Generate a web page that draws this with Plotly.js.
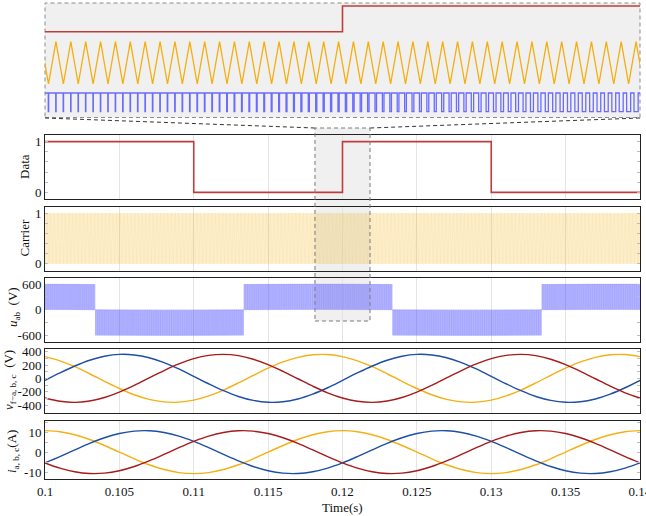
<!DOCTYPE html>
<html>
<head>
<meta charset="utf-8">
<script src="https://cdn.plot.ly/plotly-3.0.1.min.js"></script>
<style>
  html, body { margin: 0; padding: 0; background: #fff; }
  #chart { width: 646px; height: 516px; }
</style>
</head>
<body>
<div id="chart"></div>
<script>
// ---- Time axis ----
const timeRange = [0.1, 0.140001];
const zoomWindow = [0.11815, 0.12185];
const timeTicks = [0.1, 0.105, 0.11, 0.115, 0.12, 0.125, 0.13, 0.135, 0.14];

// ---- Data bit stream (level held from each edge to the next) ----
const dataEdges = [0.1, 0.11, 0.12, 0.13, 0.14];
const dataBits  = [1, 0, 1, 0, 0];

// ---- Carrier and modulation parameters ----
const carrierPeriod = 9.25e-5;     // s
const carrierPeakAt = 0.118218;    // time of one carrier peak (s)
const dcLink = 600;                // V, pulse height of u_ab
const refPeriod = 0.02;            // s
const refZeroCrossings = [0.10337, 0.11337, 0.12337, 0.13337]; // u_ab polarity changes
const modIndex = 0.95;

// ---- Three-phase samples, every 1 ms from 0.100 s to 0.140 s ----
const tSample = Array.from({length: 41}, (_, k) => +(0.1 + k * 0.001).toFixed(3));

const vA = [-31, 81, 185, 272, 331, 359, 351, 309, 236, 141, 31, -81, -185, -272, -331, -359, -351, -309, -236, -141,
            -31, 81, 185, 272, 331, 359, 351, 309, 236, 141, 31, -81, -185, -272, -331, -359, -351, -309, -236, -141, -31];
const vB = [-295, -344, -360, -340, -287, -206, -105, 6, 117, 217, 295, 344, 360, 340, 287, 206, 105, -6, -117, -217,
            -295, -344, -360, -340, -287, -206, -105, 6, 117, 217, 295, 344, 360, 340, 287, 206, 105, -6, -117, -217, -295];
const vC = [326, 263, 175, 69, -44, -152, -246, -315, -353, -357, -326, -263, -175, -69, 44, 152, 246, 315, 353, 357,
            326, 263, 175, 69, -44, -152, -246, -315, -353, -357, -326, -263, -175, -69, 44, 152, 246, 315, 353, 357, 326];

const iA = [-5.4, -2.25, 1.13, 4.39, 7.23, 9.35, 10.56, 10.74, 9.87, 8.03, 5.4, 2.25, -1.13, -4.39, -7.23, -9.35, -10.56, -10.74, -9.87, -8.03,
            -5.4, -2.25, 1.13, 4.39, 7.23, 9.35, 10.56, 10.74, 9.87, 8.03, 5.4, 2.25, -1.13, -4.39, -7.23, -9.35, -10.56, -10.74, -9.87, -8.03, -5.4];
const iB = [-5.4, -8.03, -9.87, -10.74, -10.56, -9.35, -7.23, -4.39, -1.13, 2.25, 5.4, 8.03, 9.87, 10.74, 10.56, 9.35, 7.23, 4.39, 1.13, -2.25,
            -5.4, -8.03, -9.87, -10.74, -10.56, -9.35, -7.23, -4.39, -1.13, 2.25, 5.4, 8.03, 9.87, 10.74, 10.56, 9.35, 7.23, 4.39, 1.13, -2.25, -5.4];
const iC = [10.8, 10.27, 8.74, 6.35, 3.34, 0, -3.34, -6.35, -8.74, -10.27, -10.8, -10.27, -8.74, -6.35, -3.34, 0, 3.34, 6.35, 8.74, 10.27,
            10.8, 10.27, 8.74, 6.35, 3.34, 0, -3.34, -6.35, -8.74, -10.27, -10.8, -10.27, -8.74, -6.35, -3.34, 0, 3.34, 6.35, 8.74, 10.27, 10.8];

// ---- Axis labels ----
const dataTicks = [0, 1];
const uabTicks = [-600, 0, 600];
const vTicks = [-400, -200, 0, 200, 400];
const iTicks = [-10, 0, 10];
const label = v => String(v);

// ---- Build the carrier triangle and the unipolar PWM line voltage ----
function reference(t) {
  // polarity follows the first listed zero crossing (falling edge there)
  return -Math.sin(2 * Math.PI * (t - refZeroCrossings[0]) / refPeriod);
}
const carT = [], carV = [], uT = [], uV = [];
{
  const half = carrierPeriod / 2;
  const n = Math.floor((timeRange[0] - carrierPeakAt) / carrierPeriod) - 1;
  let t = carrierPeakAt + n * carrierPeriod;
  let level = 1;
  while (t <= timeRange[1] + carrierPeriod) {
    carT.push(t); carV.push(level);
    const tm = t + half / 2;
    const s = reference(tm);
    const hw = modIndex * Math.abs(s) * half / 2;
    const v = s >= 0 ? dcLink : -dcLink;
    uT.push(tm - hw, tm - hw, tm + hw, tm + hw);
    uV.push(0, v, v, 0);
    t += half;
    level = 1 - level;
  }
}

// ---- Geometry helpers (pixel -> paper) ----
const W = 646, H = 516;
const M = {l: 45, r: 6, t: 3, b: 37};
const PW = W - M.l - M.r, PH = H - M.t - M.b;
const fx = x => (x - M.l) / PW;
const fy = y => (M.t + PH - y) / PH;
const dom = (top, bottom) => [fy(bottom), fy(top)];
const tx = t => (t - timeRange[0]) / (timeRange[1] - timeRange[0]);

const FONT = 'Liberation Serif';
const COL = {blue: '#1d4fa6', red: '#a61b1b', yellow: '#f5b015', data: '#c03c3c'};

const traces = [
  {x: dataEdges, y: dataBits, xaxis: 'x', yaxis: 'y', mode: 'lines',
   line: {shape: 'hv', color: COL.data, width: 1.6}},
  {x: carT, y: carV, xaxis: 'x2', yaxis: 'y2', mode: 'lines',
   line: {color: 'rgba(246,182,30,0.32)', width: 0.6, simplify: false}},
  {x: uT, y: uV, xaxis: 'x3', yaxis: 'y3', mode: 'lines',
   line: {color: 'rgba(90,90,255,0.36)', width: 0.6, simplify: false}},
  {x: tSample, y: vC, xaxis: 'x4', yaxis: 'y4', mode: 'lines', line: {color: COL.yellow, width: 1.4, shape: 'spline'}},
  {x: tSample, y: vA, xaxis: 'x4', yaxis: 'y4', mode: 'lines', line: {color: COL.blue, width: 1.4, shape: 'spline'}},
  {x: tSample, y: vB, xaxis: 'x4', yaxis: 'y4', mode: 'lines', line: {color: COL.red, width: 1.4, shape: 'spline'}},
  {x: tSample, y: iC, xaxis: 'x5', yaxis: 'y5', mode: 'lines', line: {color: COL.yellow, width: 1.4, shape: 'spline'}},
  {x: tSample, y: iA, xaxis: 'x5', yaxis: 'y5', mode: 'lines', line: {color: COL.blue, width: 1.4, shape: 'spline'}},
  {x: tSample, y: iB, xaxis: 'x5', yaxis: 'y5', mode: 'lines', line: {color: COL.red, width: 1.4, shape: 'spline'}},
  // magnified window
  {x: dataEdges, y: dataBits, xaxis: 'x6', yaxis: 'y6', mode: 'lines',
   line: {shape: 'hv', color: COL.data, width: 1.6}},
  {x: carT, y: carV, xaxis: 'x6', yaxis: 'y7', mode: 'lines',
   line: {color: '#f5ae0c', width: 1.3, simplify: false}},
  {x: uT, y: uV, xaxis: 'x6', yaxis: 'y8', mode: 'lines',
   line: {color: '#6b6bff', width: 1.3, simplify: false}}
].map(tr => Object.assign({hoverinfo: 'skip', showlegend: false}, tr));

const panels = {
  data: [135, 199], carrier: [207, 270.5], uab: [278, 341.5], v: [349, 412.5], i: [421, 479]
};

function xAxis(anchor, showLabels) {
  return {
    anchor, matches: anchor === 'y' ? undefined : 'x', range: timeRange,
    showline: true, mirror: true, linecolor: '#222', linewidth: 1,
    showgrid: true, gridcolor: '#e4e4e4', gridwidth: 1, zeroline: false,
    tickmode: 'array', tickvals: timeTicks, ticktext: timeTicks.map(String), ticks: '', ticklen: 0,
    ticklabeloverflow: 'allow',
    showticklabels: showLabels, tickfont: {family: FONT, size: 13, color: '#111'}
  };
}
function yAxis(anchor, domain, range, ticks, minorStep) {
  return {
    anchor, domain, range, showline: true, mirror: 'allticks', linecolor: '#222', linewidth: 1,
    showgrid: false, zeroline: false,
    tickmode: 'array', tickvals: ticks, ticktext: ticks.map(label),
    ticks: 'inside', ticklen: 3, tickcolor: '#bdbdbd',
    minor: {dtick: minorStep, ticks: 'inside', ticklen: 3, tickcolor: '#bdbdbd', showgrid: false},
    tickfont: {family: FONT, size: 13, color: '#111'}
  };
}
const hidden = (extra) => Object.assign({visible: false, fixedrange: true}, extra);

const insetDom = dom(3, 117.5);

const layout = {
  width: W, height: H,
  margin: M,
  paper_bgcolor: '#fff', plot_bgcolor: 'rgba(0,0,0,0)',
  font: {family: FONT, size: 13, color: '#111'},
  showlegend: false,
  xaxis: xAxis('y', false),
  xaxis2: xAxis('y2', false),
  xaxis3: xAxis('y3', false),
  xaxis4: xAxis('y4', false),
  xaxis5: xAxis('y5', true),
  yaxis: yAxis('x', dom(...panels.data), [-0.13, 1.13], dataTicks, 0.2),
  yaxis2: yAxis('x2', dom(...panels.carrier), [-0.13, 1.12], dataTicks, 0.2),
  yaxis3: yAxis('x3', dom(...panels.uab), [-742, 742], uabTicks, 300),
  yaxis4: yAxis('x4', dom(...panels.v), [-512, 440], vTicks, 100),
  yaxis5: yAxis('x5', dom(...panels.i), [-13.5, 15.65], iTicks, 5),
  xaxis6: hidden({anchor: 'y6', domain: [0, 1], range: zoomWindow}),
  yaxis6: hidden({anchor: 'x6', domain: insetDom, range: [-3.339, 1.117]}),
  yaxis7: hidden({anchor: 'x6', overlaying: 'y6', range: [-0.792, 1.915]}),
  yaxis8: hidden({anchor: 'x6', overlaying: 'y6', range: [-186, 3488]}),
  shapes: [
    // magnified window frame
    {type: 'rect', xref: 'paper', yref: 'paper', x0: fx(45), x1: fx(640), y0: fy(117.5), y1: fy(3),
     fillcolor: '#f0f0f0', line: {color: '#8c8c8c', width: 1, dash: '4px,3px'}, layer: 'below'},
    // highlighted interval in the main panels
    {type: 'rect', xref: 'x', yref: 'paper', x0: zoomWindow[0], x1: zoomWindow[1], y0: fy(321), y1: fy(128),
     fillcolor: '#f0f0f0', line: {width: 0}, layer: 'below'},
    {type: 'rect', xref: 'x', yref: 'paper', x0: zoomWindow[0], x1: zoomWindow[1], y0: fy(321), y1: fy(128),
     fillcolor: 'rgba(0,0,0,0)', line: {color: '#7a7a7a', width: 1, dash: '4px,3px'}, layer: 'above'},
    // connectors
    {type: 'line', xref: 'paper', yref: 'paper', x0: 0, y0: fy(118), x1: tx(zoomWindow[0]), y1: fy(128),
     line: {color: '#333', width: 1, dash: '4px,3px'}},
    {type: 'line', xref: 'paper', yref: 'paper', x0: 1, y0: fy(118), x1: tx(zoomWindow[1]), y1: fy(128),
     line: {color: '#333', width: 1, dash: '4px,3px'}}
  ],
  annotations: [
    {text: 'Data', x: fx(24), y: fy(167), textangle: -90},
    {text: 'Carrier', x: fx(24), y: fy(238.5), textangle: -90},
    {text: '<i>u</i><sub>ab</sub>\u2002(V)', x: fx(13), y: fy(307), textangle: -90},
    {text: '<i>v</i><sub>f\u2212a, b, c</sub>\u2002(V)', x: fx(9), y: fy(380), textangle: -90},
    {text: '<i>i</i><sub>a, b, c</sub>(A)', x: fx(12), y: fy(452), textangle: -90},
    {text: 'Time(s)', x: 0.5, y: fy(507)}
  ].map(a => Object.assign({xref: 'paper', yref: 'paper', showarrow: false,
                             xanchor: 'center', yanchor: 'middle',
                             font: {family: FONT, size: 13, color: '#111'}}, a))
};

Plotly.newPlot('chart', traces, layout, {staticPlot: true, displayModeBar: false});
</script>
</body>
</html>
